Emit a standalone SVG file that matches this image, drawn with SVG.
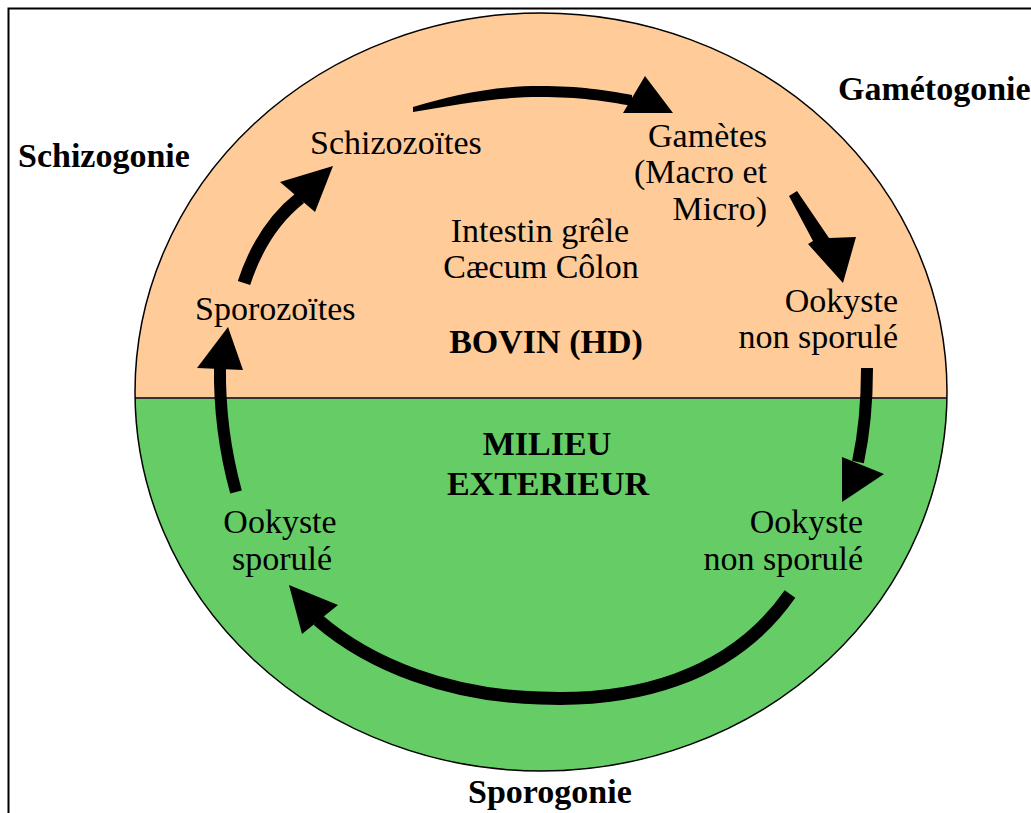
<svg xmlns="http://www.w3.org/2000/svg" width="1031" height="813" viewBox="0 0 1031 813">
<style>
.t{font-family:"Liberation Serif","Times New Roman",serif;font-size:34px;fill:#000}
.b{font-weight:bold}
.arc{fill:none;stroke:#000;stroke-linecap:butt}
.head{fill:#000}
</style>
<defs>
<clipPath id="topHalf"><rect x="0" y="0" width="1031" height="398"/></clipPath>
</defs>
<rect x="0" y="0" width="1031" height="813" fill="#fff"/>
<rect x="8.5" y="8.5" width="1100" height="900" fill="none" stroke="#000" stroke-width="2"/>
<g id="background">
<ellipse cx="541" cy="392" rx="406" ry="379" fill="#66CC66"/>
<ellipse cx="541" cy="392" rx="406" ry="379" fill="#FFCC99" clip-path="url(#topHalf)"/>
<line x1="135" y1="398" x2="947" y2="398" stroke="#333" stroke-width="2"/>
<ellipse cx="541" cy="392" rx="406" ry="379" fill="none" stroke="#000" stroke-width="1.5"/>
</g>
<g id="connectors">
<path class="head" d="M413,107 C450,96 490,86 540,86 C580,86 605,90 632,95 L632,106 C605,101 580,97 540,97 C495,97 455,105 413,112 Z"/>
<polygon class="head" points="623,113 645,76 673,113"/>
<polygon class="head" points="789,196 797,191 829,238 856,237 843,283 808,244 813,241"/>
<path class="arc" stroke-width="12" d="M867,368 Q867,420 858,462"/>
<polygon class="head" points="842,457 884,474 842,502"/>
<path class="arc" stroke-width="13" d="M790,594 C730,680 630,702 540,698 C450,696 370,665 318,620"/>
<polygon class="head" points="289,585 338,605 302,634"/>
<path class="arc" stroke-width="12" d="M236,492 Q219,430 220,366"/>
<polygon class="head" points="197,368 243,370 228,327"/>
<path class="arc" stroke-width="13" d="M244,283 Q262,228 300,198"/>
<polygon class="head" points="280,182 333,166 315,212"/>
</g>
<g id="schizogonie"><text class="t b" x="18" y="167">Schizogonie</text></g>
<g id="gametogonie"><text class="t b" x="838" y="100">Gamétogonie</text></g>
<g id="sporogonie"><text class="t b" x="468" y="803">Sporogonie</text></g>
<g id="schizozoites"><text class="t" x="310" y="154">Schizozoïtes</text></g>
<g id="sporozoites"><text class="t" x="195" y="320">Sporozoïtes</text></g>
<g id="gametes">
<text class="t" x="767" y="147" text-anchor="end">Gamètes</text>
<text class="t" x="767" y="183" text-anchor="end">(Macro et</text>
<text class="t" x="767" y="220" text-anchor="end">Micro)</text>
</g>
<g id="intestin">
<text class="t" x="540" y="242" text-anchor="middle">Intestin grêle</text>
<text class="t" x="541" y="278" text-anchor="middle">Cæcum Côlon</text>
</g>
<g id="bovin"><text class="t b" x="546" y="353" text-anchor="middle">BOVIN (HD)</text></g>
<g id="ookyste-ns-hote">
<text class="t" x="898" y="312" text-anchor="end">Ookyste</text>
<text class="t" x="898" y="348" text-anchor="end">non sporulé</text>
</g>
<g id="milieu">
<text class="t b" x="547" y="455" text-anchor="middle">MILIEU</text>
<text class="t b" x="548" y="495" text-anchor="middle">EXTERIEUR</text>
</g>
<g id="ookyste-ns-ext">
<text class="t" x="863" y="533" text-anchor="end">Ookyste</text>
<text class="t" x="863" y="570" text-anchor="end">non sporulé</text>
</g>
<g id="ookyste-sporule">
<text class="t" x="280" y="533" text-anchor="middle">Ookyste</text>
<text class="t" x="282" y="570" text-anchor="middle">sporulé</text>
</g>
</svg>
